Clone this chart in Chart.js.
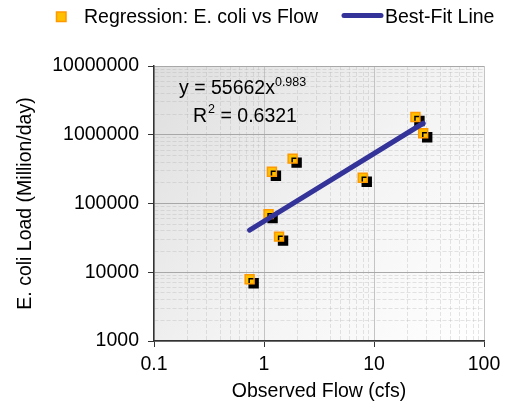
<!DOCTYPE html>
<html>
<head>
<meta charset="utf-8">
<script src="https://cdn.jsdelivr.net/npm/chart.js@4/dist/chart.umd.min.js"></script>
<style>
  html, body { margin: 0; padding: 0; background: #fff; }
  #wrap { width: 517px; height: 411px; }
</style>
</head>
<body>
<div id="wrap"><canvas id="chart" width="517" height="411"></canvas></div>
<script>
// data
const flowX = [0.74, 1.10, 1.18, 1.37, 1.82, 7.9, 23.8, 28];
const loadY = [7900, 70000, 290000, 33000, 450000, 237000, 1810000, 1050000];
// best-fit line ends (y = 55662x^0.983)
const fitX = [0.74, 28];
const fitY = [41000, 1470000];
// axis ticks
const xMajor = [0.1, 1, 10, 100];
const xTickLabels = ["0.1", "1", "10", "100"];
const yMajor = [1000, 10000, 100000, 1000000, 10000000];
const yTickLabels = ["1000", "10000", "100000", "1000000", "10000000"];

const FONT = "'Liberation Sans', Arial, sans-serif";
const canvasChart = document.getElementById("chart");

const isMajor = (list, v) => list.some((m) => Math.abs(v / m - 1) < 1e-6);

// majors plus 2..9 minors inside each decade
const logTicks = (majors) => {
  const out = [];
  majors.forEach((m, i) => {
    out.push({ value: m });
    if (i < majors.length - 1) {
      for (let k = 2; k <= 9; k++) out.push({ value: m * k });
    }
  });
  return out;
};

const gridFor = (majors, majorColor) => ({
  color: (c) => (c.tick && isMajor(majors, c.tick.value) ? majorColor : "rgba(175,175,175,0.32)"),
  lineWidth: 1,
  tickColor: (c) => (c.tick && isMajor(majors, c.tick.value) ? "#333" : "rgba(0,0,0,0)"),
  tickLength: 6,
});

const chartBg = {
  id: "chartBg",
  beforeDraw(chart) {
    const { ctx, chartArea: a } = chart;
    const g = ctx.createLinearGradient(a.left, a.top, a.right, a.bottom);
    g.addColorStop(0, "#dedede");
    g.addColorStop(0.55, "#f4f4f4");
    g.addColorStop(1, "#ffffff");
    ctx.save();
    ctx.fillStyle = g;
    ctx.fillRect(a.left, a.top, a.right - a.left, a.bottom - a.top);
    ctx.restore();
  },
  beforeDatasetDraw(chart, args) {
    if (args.index !== 0) return;
    const ctx = chart.ctx;
    ctx.save();
    ctx.shadowColor = "#000";
    ctx.shadowOffsetX = 4;
    ctx.shadowOffsetY = 4;
    ctx.shadowBlur = 0;
  },
  afterDatasetDraw(chart, args) {
    if (args.index !== 0) return;
    chart.ctx.restore();
  },
  afterDraw(chart) {
    const ctx = chart.ctx;
    ctx.save();
    // legend
    ctx.fillStyle = "#ffc000";
    ctx.strokeStyle = "#ff9900";
    ctx.lineWidth = 1.5;
    ctx.fillRect(56.5, 12, 9.5, 9.5);
    ctx.strokeRect(56.5, 12, 9.5, 9.5);
    ctx.fillStyle = "#000";
    ctx.font = "19.5px " + FONT;
    ctx.textBaseline = "alphabetic";
    ctx.fillText("Regression: E. coli vs Flow", 84, 23);
    ctx.strokeStyle = "#333399";
    ctx.lineWidth = 5;
    ctx.lineCap = "round";
    ctx.beginPath();
    ctx.moveTo(344, 15.5);
    ctx.lineTo(381, 15.5);
    ctx.stroke();
    ctx.fillText("Best-Fit Line", 385, 23);
    // equation
    ctx.fillText("y = 55662x", 179, 94);
    const w = ctx.measureText("y = 55662x").width;
    ctx.fillText("R", 193, 122);
    const wr = ctx.measureText("R").width;
    ctx.fillText(" = 0.6321", 193 + wr + 8, 122);
    ctx.font = "12.5px " + FONT;
    ctx.fillText("0.983", 179 + w, 86);
    ctx.fillText("2", 193 + wr + 1, 113);
    ctx.restore();
  },
};

const config = {
  type: "scatter",
  data: {
    datasets: [
      {
        label: "Regression: E. coli vs Flow",
        data: flowX.map((x, i) => ({ x: x, y: loadY[i] })),
        pointStyle: "rect",
        pointRadius: 6.3,
        pointHoverRadius: 6.3,
        backgroundColor: "#ffc000",
        borderColor: "#ff9900",
        borderWidth: 1.5,
        order: 1,
      },
      {
        label: "Best-Fit Line",
        type: "line",
        data: fitX.map((x, i) => ({ x: x, y: fitY[i] })),
        borderColor: "#333399",
        borderWidth: 5,
        borderCapStyle: "round",
        pointRadius: 0,
        fill: false,
        order: 0,
      },
    ],
  },
  options: {
    responsive: false,
    animation: false,
    events: [],
    layout: { padding: { top: 66, right: 33, left: 0, bottom: 0 } },
    plugins: { legend: { display: false }, tooltip: { enabled: false } },
    scales: {
      x: {
        type: "logarithmic",
        min: 0.1,
        max: 100,
        afterBuildTicks: (s) => { s.ticks = logTicks(xMajor); },
        afterFit: (s) => { s.height = 70; },
        grid: gridFor(xMajor, "#c4c4c4"),
        border: {
          color: "#333",
          width: 1.5,
          dash: (c) => (c.tick && !isMajor(xMajor, c.tick.value) ? [4, 2] : []),
        },
        ticks: {
          autoSkip: false,
          maxRotation: 0,
          padding: 6,
          color: "#000",
          font: { family: FONT, size: 19.5 },
          callback: (v) => {
            const i = xMajor.findIndex((m) => Math.abs(v / m - 1) < 1e-6);
            return i >= 0 ? xTickLabels[i] : "";
          },
        },
        title: {
          display: true,
          text: "Observed Flow (cfs)",
          color: "#000",
          font: { family: FONT, size: 19.5 },
          padding: { top: 0, bottom: 8 },
        },
      },
      y: {
        type: "logarithmic",
        min: 1000,
        max: 10000000,
        afterBuildTicks: (s) => { s.ticks = logTicks(yMajor); },
        afterFit: (s) => { s.width = 154; },
        grid: gridFor(yMajor, "#a8a8a8"),
        border: {
          color: "#333",
          width: 1.5,
          dash: (c) => (c.tick && !isMajor(yMajor, c.tick.value) ? [4, 2] : []),
        },
        ticks: {
          autoSkip: false,
          padding: 9,
          color: "#000",
          font: { family: FONT, size: 19.5 },
          callback: (v) => {
            const i = yMajor.findIndex((m) => Math.abs(v / m - 1) < 1e-6);
            return i >= 0 ? yTickLabels[i] : "";
          },
        },
        title: {
          display: true,
          text: "E. coli Load (Million/day)",
          color: "#000",
          font: { family: FONT, size: 19.5 },
          padding: { top: 14, bottom: 0 },
        },
      },
    },
  },
  plugins: [chartBg],
};

new Chart(canvasChart, config);
</script>
</body>
</html>
